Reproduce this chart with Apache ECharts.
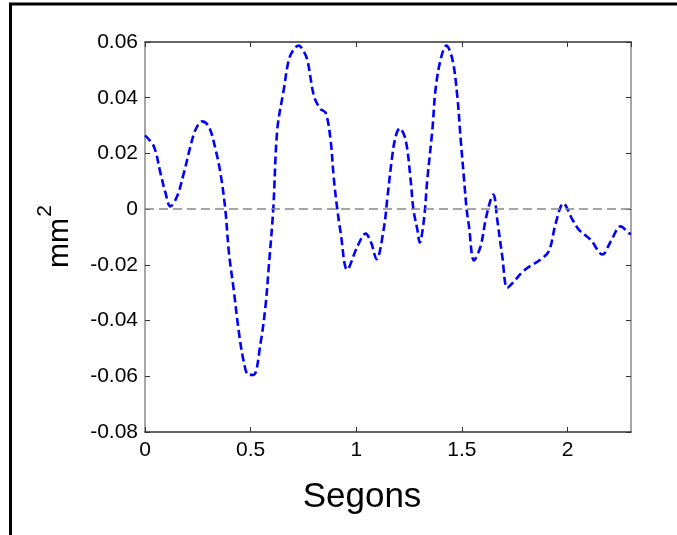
<!DOCTYPE html>
<html>
<head>
<meta charset="utf-8">
<script src="https://cdn.jsdelivr.net/npm/echarts@6/dist/echarts.min.js"></script>
<style>html,body{margin:0;padding:0;background:#fff}#c{width:677px;height:535px}</style>
</head>
<body>
<div id="c"></div>
<script>
var xs = [0, 0.042, 0.073, 0.097, 0.12, 0.152, 0.184, 0.215, 0.239, 0.27, 0.302, 0.334, 0.357, 0.38, 0.397, 0.42, 0.444, 0.468, 0.49, 0.514, 0.547, 0.57, 0.586, 0.607, 0.626, 0.657, 0.681, 0.705, 0.728, 0.748, 0.768, 0.80, 0.83, 0.855, 0.878, 0.894, 0.91, 0.926, 0.957, 1.005, 1.044, 1.07, 1.096, 1.13, 1.147, 1.17, 1.186, 1.205, 1.233, 1.257, 1.27, 1.289, 1.30, 1.32, 1.336, 1.36, 1.375, 1.399, 1.426, 1.455, 1.478, 1.494, 1.51, 1.522, 1.533, 1.557, 1.588, 1.612, 1.636, 1.649, 1.667, 1.691, 1.715, 1.746, 1.794, 1.873, 1.912, 1.944, 1.98, 2.023, 2.054, 2.109, 2.165, 2.204, 2.251, 2.29, 2.30];
var ys = [0.0265, 0.0225, 0.013, 0.0058, 0.001, 0.0046, 0.013, 0.0225, 0.0285, 0.0315, 0.0297, 0.0214, 0.013, 0.0, -0.0155, -0.029, -0.044, -0.055, -0.0595, -0.0595, -0.048, -0.035, -0.0205, 0.0, 0.0285, 0.043, 0.0537, 0.0575, 0.0587, 0.057, 0.0537, 0.0405, 0.036, 0.0346, 0.025, 0.0106, 0.0, -0.0085, -0.0217, -0.0134, -0.0088, -0.012, -0.018, -0.007, 0.004, 0.019, 0.026, 0.029, 0.025, 0.0106, 0.0, -0.0074, -0.012, -0.0038, 0.0106, 0.0285, 0.043, 0.0537, 0.0587, 0.0537, 0.0405, 0.025, 0.0106, 0.0, -0.006, -0.0184, -0.0134, -0.0038, 0.0034, 0.0052, -0.0038, -0.017, -0.0283, -0.026, -0.022, -0.018, -0.015, -0.005, 0.002, -0.0038, -0.0074, -0.011, -0.0163, -0.0116, -0.0062, -0.0086, -0.009];
var xTicks = [0, 0.5, 1, 1.5, 2];
var yTicks = [-0.08, -0.06, -0.04, -0.02, 0, 0.02, 0.04, 0.06];
var xName = 'Segons';
var yName = 'mm';
var yNameSup = '2';

var FONT = "'Liberation Sans', Arial, sans-serif";
var chart = echarts.init(document.getElementById('c'), null, {renderer: 'canvas'});
var pts = xs.map(function (x, i) { return [x, ys[i]]; });

function xAx(pos, show) {
  return {
    type: 'value', position: pos, min: 0, max: 2.3, interval: 0.5,
    axisLine: {show: true, onZero: false, lineStyle: {color: '#333', width: 1.5}},
    axisTick: {show: true, inside: true, length: 5, lineStyle: {color: '#333', width: 1}},
    axisLabel: {show: show, fontSize: 21, color: '#000', fontFamily: FONT, margin: 8, showMaxLabel: false,
      formatter: function (v) { var r = Math.round(v * 10) / 10; return xTicks.indexOf(r) >= 0 ? String(r) : ''; }},
    splitLine: {show: false}
  };
}
function yAx(pos, show) {
  return {
    type: 'value', position: pos, min: -0.08, max: 0.06, interval: 0.02,
    axisLine: {show: true, onZero: false, lineStyle: {color: '#888', width: 1.5}},
    axisTick: {show: true, inside: true, length: 5, lineStyle: {color: '#333', width: 1}},
    axisLabel: {show: show, fontSize: 21, color: '#000', fontFamily: FONT, margin: 7,
      formatter: function (v) { var r = Math.round(v * 100) / 100; return r === 0 ? '0' : r.toFixed(2); }},
    splitLine: {show: false}
  };
}

chart.setOption({
  animation: false,
  backgroundColor: '#fff',
  grid: {left: 145, right: 46, top: 42, bottom: 103, containLabel: false},
  xAxis: [xAx('bottom', true), xAx('top', false)],
  yAxis: [yAx('left', true), yAx('right', false)],
  series: [{
    type: 'line', data: pts, smooth: 0.35, showSymbol: false, symbol: 'none',
    lineStyle: {color: '#0000FF', width: 2.6, type: [8, 4]},
    markLine: {
      silent: true, symbol: 'none', label: {show: false},
      lineStyle: {color: '#888', width: 1.5, type: [9, 5]},
      data: [{yAxis: 0}]
    }
  }],
  graphic: [
    {type: 'rect', shape: {x: 10.5, y: 4, width: 700, height: 600}, style: {fill: null, stroke: '#000', lineWidth: 3}, silent: true},
    {type: 'text', x: 362, y: 497, style: {text: xName, fontSize: 35, fontFamily: FONT, fill: '#000', align: 'center', verticalAlign: 'middle'}},
    {type: 'text', x: 60, y: 243, rotation: Math.PI / 2, style: {text: yName, fontSize: 30, fontFamily: FONT, fill: '#000', align: 'center', verticalAlign: 'middle'}},
    {type: 'text', x: 45, y: 211, rotation: Math.PI / 2, style: {text: yNameSup, fontSize: 21, fontFamily: FONT, fill: '#000', align: 'center', verticalAlign: 'middle'}}
  ]
});
</script>
</body>
</html>
